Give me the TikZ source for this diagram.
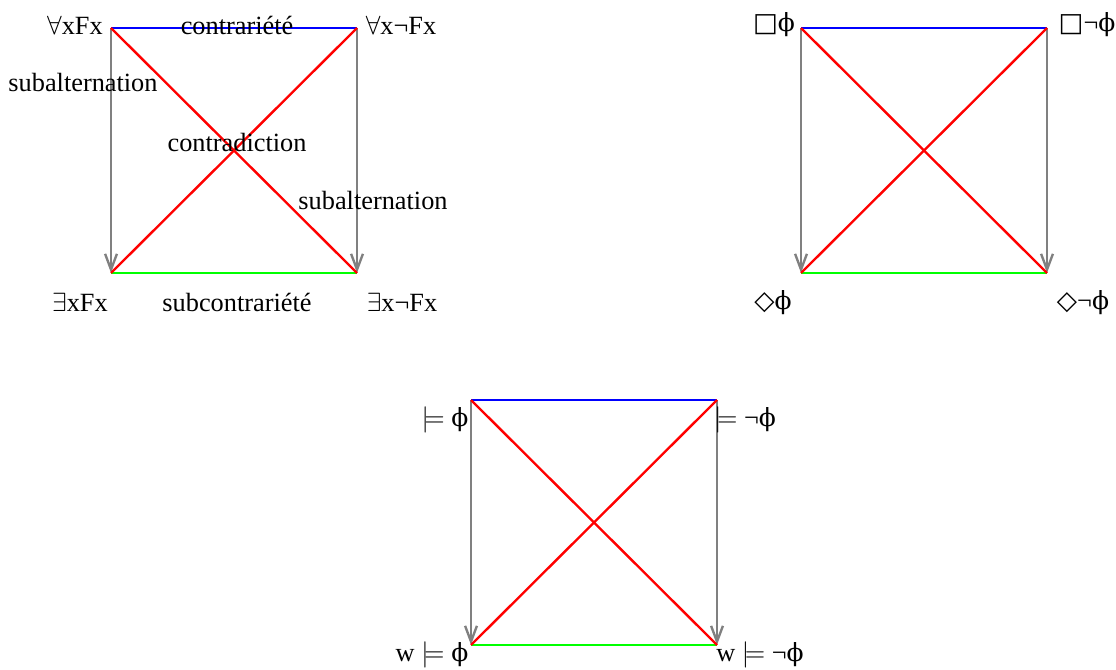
\documentclass[tikz,border=0pt]{standalone}
\usepackage{amssymb}
\usepackage{fontspec}
\setmainfont{Liberation Serif}
\newfontfamily\symb{DejaVu Sans}
\newfontfamily\grec{DejaVu Serif}
\newcommand{\fphi}{{\grec\scalebox{0.95}{ϕ}}}
\usetikzlibrary{positioning,arrows.meta}

\begin{document}
\begin{tikzpicture}[x=0.38pt, y=-0.38pt,
    every node/.style={inner sep=1pt},
    contraire/.style={blue, line width=0.9pt},
    contradictoire/.style={red, line width=0.9pt},
    subcontraire/.style={green, line width=0.9pt},
    subaltern/.style={gray, line width=0.9pt, -{Straight Barb[length=6pt,width=4.5pt]}}]

        \useasboundingbox (0,0) rectangle (1116,670);

        % carré logique
        \coordinate (a1) at (111,28);
        \coordinate (e1) at (357,28);
        \coordinate (i1) at (111,273);
        \coordinate (o1) at (357,273);

        % carré modal
        \coordinate (a2) at (801,28);
        \coordinate (e2) at (1047,28);
        \coordinate (i2) at (801,273);
        \coordinate (o2) at (1047,273);

        % carré sémantique
        \coordinate (a3) at (471,400);
        \coordinate (e3) at (717,400);
        \coordinate (i3) at (471,645);
        \coordinate (o3) at (717,645);

        \foreach \n in {1,2,3} {
            \draw [subaltern] (a\n) -- (i\n);
            \draw [subaltern] (e\n) -- (o\n);
            \draw [contraire] (a\n) -- (e\n);
            \draw [subcontraire] (i\n) -- (o\n);
            \draw [contradictoire] (a\n) -- (o\n);
            \draw [contradictoire] (e\n) -- (i\n);
        }

        \node (ta1) at (75,25) {$\forall$xFx};
        \node (te1) at (401,25) {$\forall$x¬Fx};
        \node (ti1) at (80,302) {$\exists$xFx};
        \node (to1) at (402,302) {$\exists$x¬Fx};
        \node (contr) at (237,25) {contrariété};
        \node (sub1) at (83,83) {subalternation};
        \node (contrad) at (237,143) {contradiction};
        \node (sub2) at (373,201) {subalternation};
        \node (subcontr) at (237,302) {subcontrariété};

        \node (ta2) at (774,25) {{\symb □}\fphi};
        \node (te2) at (1087,25) {{\symb □}¬\fphi};
        \node (ti2) at (773,303) {{\symb ◇}\fphi};
        \node (to2) at (1083,303) {{\symb ◇}¬\fphi};

        \node (ta3) at (445,420) {$\models$ \fphi};
        \node (te3) at (745,420) {$\models$ ¬\fphi};
        \node (ti3) at (432,655) {w $\models$ \fphi};
        \node (to3) at (760,655) {w $\models$ ¬\fphi};

    \end{tikzpicture}
\end{document}
